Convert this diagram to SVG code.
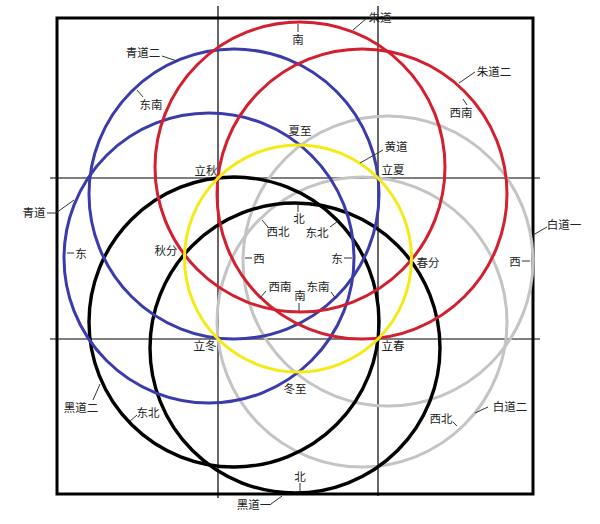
<svg xmlns="http://www.w3.org/2000/svg" width="600" height="524" viewBox="0 0 600 524">
<style>
.t{font-family:"Noto Sans CJK SC","Noto Sans CJK TC",sans-serif;font-size:11.5px;fill:#222;text-anchor:middle}
.c{fill:none;stroke-width:3}
.red{stroke:#d3202e}
.blue{stroke:#3b3bab}
.yel{stroke:#f6ea14}
.gry{stroke:#c4c4c4}
.blk{stroke:#000;stroke-width:3.4}
.g{stroke:#000;stroke-width:1.2;fill:none}
.l{stroke:#333;stroke-width:1;fill:none}
</style>
<rect width="600" height="524" fill="#fff"/>
<g id="grid">
<rect x="57" y="18" width="476" height="476" fill="none" stroke="#000" stroke-width="3"/>
<line class="g" x1="218" y1="6" x2="218" y2="498"/>
<line class="g" x1="378" y1="6" x2="378" y2="496"/>
<line class="g" x1="50" y1="178" x2="540" y2="178"/>
<line class="g" x1="50" y1="339" x2="540" y2="339"/>
</g>
<g id="baidao1"><circle class="c gry" cx="388" cy="261" r="145"/></g>
<g id="baidao2"><circle class="c gry" cx="362" cy="322" r="145"/></g>
<g id="heidao1"><circle class="c blk" cx="295" cy="348" r="145"/></g>
<g id="heidao2"><circle class="c blk" cx="234" cy="322" r="145"/></g>
<g id="qingdao1"><circle class="c blue" cx="209" cy="258" r="145"/></g>
<g id="qingdao2"><circle class="c blue" cx="234" cy="194" r="145"/></g>
<g id="zhudao1"><circle class="c red" cx="300" cy="167" r="145"/></g>
<g id="zhudao2"><circle class="c red" cx="362" cy="194" r="145"/></g>
<g id="huangdao"><circle class="c yel" cx="298" cy="258.5" r="113.5"/></g>
<g id="connectors">
<path class="l" d="M353,30L367,18"/>
<path class="l" d="M298,24V32"/>
<path class="l" d="M162,56L177,61"/>
<path class="l" d="M137,90L143,97"/>
<path class="l" d="M360,163L383,150"/>
<path class="l" d="M459,83L475,72"/>
<path class="l" d="M463,99L467,105"/>
<path class="l" d="M47,213H56L74,200"/>
<path class="l" d="M67,253H74"/>
<path class="l" d="M298,204V212"/>
<path class="l" d="M262,220L268,227"/>
<path class="l" d="M330,227L338,221"/>
<path class="l" d="M245,258H252"/>
<path class="l" d="M344,258H352"/>
<path class="l" d="M260,298L266,291"/>
<path class="l" d="M331,292L336,299"/>
<path class="l" d="M299,303V311"/>
<path class="l" d="M533,235L547,227"/>
<path class="l" d="M522,261H530"/>
<path class="l" d="M93,400L100,384"/>
<path class="l" d="M130,421L137,415"/>
<path class="l" d="M271,504L282,496"/>
<path class="l" d="M300,483V492"/>
<path class="l" d="M453,422L457,426"/>
<path class="l" d="M475,413L488,407"/>
</g>
<g id="labels">
<text class="t" x="380" y="22">朱道</text>
<text class="t" x="298" y="44">南</text>
<text class="t" x="143" y="57">青道二</text>
<text class="t" x="151" y="109">东南</text>
<text class="t" x="300" y="135">夏至</text>
<text class="t" x="396" y="151">黄道</text>
<text class="t" x="393" y="174">立夏</text>
<text class="t" x="206" y="175">立秋</text>
<text class="t" x="494" y="76">朱道二</text>
<text class="t" x="461" y="117">西南</text>
<text class="t" x="34" y="217">青道</text>
<text class="t" x="81" y="258">东</text>
<text class="t" x="166" y="255">秋分</text>
<text class="t" x="299" y="223">北</text>
<text class="t" x="278" y="236">西北</text>
<text class="t" x="317" y="237">东北</text>
<text class="t" x="259" y="263">西</text>
<text class="t" x="337" y="263">东</text>
<text class="t" x="280" y="291">西南</text>
<text class="t" x="318" y="291">东南</text>
<text class="t" x="300" y="300">南</text>
<text class="t" x="428" y="267">春分</text>
<text class="t" x="564" y="229">白道一</text>
<text class="t" x="515" y="266">西</text>
<text class="t" x="205" y="350">立冬</text>
<text class="t" x="393" y="350">立春</text>
<text class="t" x="295" y="393">冬至</text>
<text class="t" x="81" y="412">黑道二</text>
<text class="t" x="148" y="417">东北</text>
<text class="t" x="254" y="509">黑道一</text>
<text class="t" x="300" y="481">北</text>
<text class="t" x="441" y="423">西北</text>
<text class="t" x="510" y="411">白道二</text>
</g>
</svg>
